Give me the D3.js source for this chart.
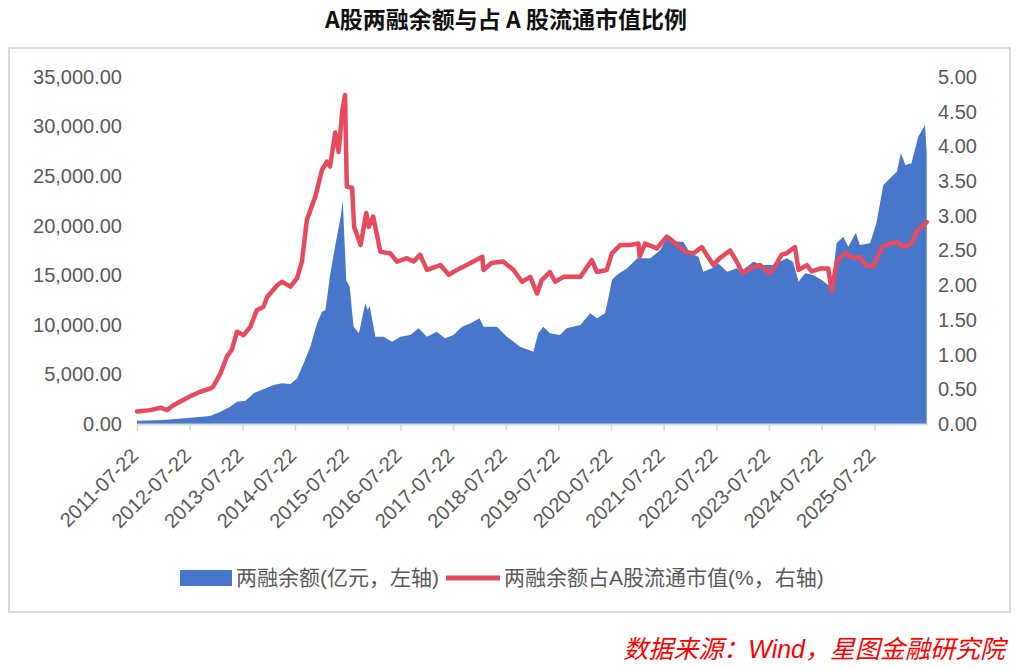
<!DOCTYPE html>
<html>
<head>
<meta charset="utf-8">
<script src="https://cdn.jsdelivr.net/npm/d3@7"></script>
<style>
  body { margin: 0; background: #fff; }
  text { font-family: "Liberation Sans", "Noto Sans CJK SC", sans-serif; }
</style>
</head>
<body>
<div id="chart"></div>
<script>
// Data (margin balance in 亿元, ratio in %)
const balanceDates = ["2011-07-22","2012-01-25","2012-07-25","2012-12-10","2013-02-20","2013-04-28","2013-06-15","2013-08-12","2013-10-08","2013-12-15","2014-02-25","2014-04-22","2014-06-20","2014-08-05","2014-09-20","2014-11-05","2014-12-22","2015-01-25","2015-02-18","2015-03-22","2015-04-27","2015-06-05","2015-06-18","2015-07-12","2015-08-05","2015-09-01","2015-10-08","2015-11-22","2015-12-08","2015-12-22","2016-01-30","2016-03-28","2016-05-25","2016-07-22","2016-09-28","2016-11-25","2017-01-22","2017-03-30","2017-05-28","2017-07-25","2017-09-22","2017-11-20","2018-01-22","2018-02-18","2018-05-22","2018-07-30","2018-10-30","2019-01-30","2019-03-05","2019-04-08","2019-05-25","2019-08-02","2019-09-18","2019-12-22","2020-02-28","2020-04-15","2020-06-10","2020-07-05","2020-07-28","2020-08-30","2020-11-10","2021-01-20","2021-04-20","2021-06-28","2021-08-25","2021-10-22","2021-12-05","2022-01-22","2022-03-20","2022-04-22","2022-06-20","2022-08-05","2022-10-05","2022-12-12","2023-01-05","2023-04-05","2023-06-12","2023-08-22","2023-11-22","2024-01-05","2024-02-12","2024-03-28","2024-05-25","2024-07-22","2024-09-05","2024-09-28","2024-11-02","2024-12-18","2025-01-22","2025-03-15","2025-04-12","2025-06-22","2025-08-05","2025-09-22","2025-11-18","2025-12-25","2026-01-22","2026-02-22","2026-04-05","2026-05-22","2026-07-08","2026-07-20"];
const balanceValues = [330,400,640,800,1240,1750,2250,2350,3100,3500,3930,4100,4030,4600,6120,7800,10150,11330,11500,15000,18000,21000,22600,14500,13850,9800,9150,12170,11500,11900,8800,8800,8300,8800,8980,9650,8800,9310,8640,8980,9810,10150,10660,9810,9810,8800,7800,7290,9150,9810,9150,8980,9650,9990,11160,10660,11160,12840,14520,15030,15700,16710,16710,17550,19060,18390,18390,17220,16880,15360,15700,16200,15360,15700,15360,16370,16040,16040,16710,16370,14350,15200,15030,14520,14020,13850,18230,18890,17880,19300,18050,18230,20240,24100,24940,25450,27300,26120,26290,28980,30160,27300];

const ratioDates = ["2011-07-22","2011-10-22","2012-01-01","2012-02-15","2012-03-30","2012-06-07","2012-07-25","2012-10-02","2012-12-10","2013-01-01","2013-02-20","2013-04-05","2013-05-10","2013-06-15","2013-07-30","2013-09-15","2013-10-30","2013-12-15","2014-01-10","2014-03-20","2014-04-22","2014-06-20","2014-08-05","2014-09-08","2014-10-12","2014-12-10","2015-01-25","2015-02-28","2015-03-22","2015-04-27","2015-05-20","2015-06-15","2015-07-04","2015-07-16","2015-08-22","2015-09-05","2015-10-20","2015-11-28","2015-12-15","2016-01-15","2016-03-05","2016-05-12","2016-06-28","2016-09-05","2016-10-22","2016-12-05","2017-01-22","2017-04-25","2017-06-22","2017-08-18","2017-11-20","2018-02-10","2018-02-18","2018-04-15","2018-07-05","2018-09-15","2018-11-12","2019-01-08","2019-02-25","2019-03-28","2019-05-25","2019-06-30","2019-08-28","2019-12-22","2020-03-10","2020-04-15","2020-06-22","2020-07-28","2020-09-25","2020-12-01","2021-01-28","2021-02-05","2021-03-15","2021-06-05","2021-08-12","2021-10-10","2021-12-18","2022-02-15","2022-04-12","2022-07-01","2022-08-15","2022-10-25","2022-12-05","2023-01-22","2023-03-10","2023-05-20","2023-07-28","2023-09-15","2023-10-18","2023-11-22","2024-01-18","2024-02-12","2024-04-10","2024-05-12","2024-07-10","2024-09-05","2024-09-30","2024-11-02","2024-12-30","2025-02-28","2025-04-12","2025-05-20","2025-07-15","2025-09-12","2025-11-08","2025-12-25","2026-02-08","2026-04-05","2026-05-10","2026-07-20"];
const ratioValues = [0.18,0.20,0.235,0.20,0.27,0.345,0.40,0.465,0.51,0.54,0.73,0.97,1.07,1.33,1.28,1.40,1.64,1.69,1.83,2.00,2.05,1.98,2.10,2.34,2.94,3.28,3.66,3.78,3.71,4.20,3.92,4.52,4.74,3.42,3.40,2.84,2.58,3.04,2.84,2.99,2.48,2.46,2.34,2.39,2.34,2.44,2.22,2.29,2.15,2.22,2.32,2.41,2.22,2.32,2.34,2.22,2.05,2.12,1.88,2.07,2.19,2.05,2.12,2.12,2.36,2.19,2.22,2.46,2.58,2.58,2.60,2.41,2.60,2.53,2.70,2.60,2.48,2.46,2.55,2.29,2.39,2.50,2.36,2.17,2.24,2.29,2.17,2.32,2.44,2.46,2.55,2.22,2.29,2.20,2.24,2.24,1.91,2.34,2.46,2.39,2.41,2.29,2.27,2.55,2.60,2.62,2.55,2.60,2.77,2.91];

const xTickLabels = ["2011-07-22","2012-07-22","2013-07-22","2014-07-22","2015-07-22","2016-07-22","2017-07-22","2018-07-22","2019-07-22","2020-07-22","2021-07-22","2022-07-22","2023-07-22","2024-07-22","2025-07-22"];
const leftTicks = [0,5000,10000,15000,20000,25000,30000,35000];
const rightTicks = [0,0.5,1,1.5,2,2.5,3,3.5,4,4.5,5];

const blue = "#4876CB";
const red = "#E64A5C";

const W = 1026, H = 670;
const plot = {left: 137, right: 927, top: 77, bottom: 424};

const parse = d3.timeParse("%Y-%m-%d");
const balance = balanceDates.map((d, i) => ({date: parse(d), value: balanceValues[i]}));
const ratio = ratioDates.map((d, i) => ({date: parse(d), value: ratioValues[i]}));

const svg = d3.select("#chart").append("svg")
  .attr("width", W)
  .attr("height", H);

// title
svg.append("text")
  .attr("x", 506).attr("y", 28)
  .attr("text-anchor", "middle")
  .style("font-family", "'Noto Sans CJK SC', sans-serif")
  .style("font-weight", "bold")
  .style("font-size", "23px")
  .attr("fill", "#111")
  .text("A股两融余额与占 A 股流通市值比例");

// frame
svg.append("rect")
  .attr("x", 9).attr("y", 48)
  .attr("width", 1001).attr("height", 564)
  .attr("fill", "#fff")
  .attr("stroke", "#d9d9d9")
  .attr("stroke-width", 2);

const x = d3.scaleTime()
  .domain([parse("2011-07-22"), parse("2026-07-22")])
  .range([plot.left, plot.right]);

const yL = d3.scaleLinear().domain([0, 35000]).range([plot.bottom, plot.top]);
const yR = d3.scaleLinear().domain([0, 5]).range([plot.bottom, plot.top]);

// area
const area = d3.area()
  .x(d => x(d.date))
  .y0(yL(0))
  .y1(d => yL(d.value));

svg.append("path")
  .datum(balance)
  .attr("d", area)
  .attr("fill", blue);

// line
const line = d3.line()
  .x(d => x(d.date))
  .y(d => yR(d.value));

svg.append("path")
  .datum(ratio)
  .attr("d", line)
  .attr("fill", "none")
  .attr("stroke", red)
  .attr("stroke-width", 4.5)
  .attr("stroke-linejoin", "round")
  .attr("stroke-linecap", "round");

// x axis
const xAxis = d3.axisBottom(x)
  .tickValues(xTickLabels.map(parse))
  .tickFormat(d3.timeFormat("%Y-%m-%d"))
  .tickSize(7)
  .tickSizeOuter(0);

const gx = svg.append("g")
  .attr("transform", `translate(0,${plot.bottom})`)
  .call(xAxis);
gx.select(".domain").attr("stroke", "#d9d9d9").attr("stroke-width", 2);
gx.selectAll(".tick line").attr("stroke", "#d9d9d9").attr("stroke-width", 1.5);
gx.selectAll(".tick text")
  .attr("fill", "#595959")
  .style("font-size", "20px")
  .attr("text-anchor", "end")
  .attr("transform", "translate(2,33) rotate(-45)")
  .attr("dy", 0)
  .attr("y", 0)
  .attr("x", 0);

// left axis
const gl = svg.append("g")
  .attr("transform", `translate(${plot.left - 12},0)`)
  .call(d3.axisLeft(yL).tickValues(leftTicks).tickFormat(d3.format(",.2f")).tickSize(0));
gl.select(".domain").remove();
gl.selectAll("text").attr("fill", "#595959").style("font-size", "20px");

// right axis
const gr = svg.append("g")
  .attr("transform", `translate(${plot.right + 8},0)`)
  .call(d3.axisRight(yR).tickValues(rightTicks).tickFormat(d3.format(".2f")).tickSize(0));
gr.select(".domain").remove();
gr.selectAll("text").attr("fill", "#595959").style("font-size", "20px");

// legend
const legend = svg.append("g").attr("transform", "translate(0,578)");
legend.append("rect")
  .attr("x", 180).attr("y", -8)
  .attr("width", 52).attr("height", 16)
  .attr("fill", blue);
legend.append("text")
  .attr("x", 236).attr("y", 0).attr("dy", "0.35em")
  .attr("fill", "#595959")
  .style("font-size", "21px")
  .text("两融余额(亿元，左轴)");
legend.append("line")
  .attr("x1", 446).attr("x2", 500)
  .attr("y1", 0).attr("y2", 0)
  .attr("stroke", red)
  .attr("stroke-width", 5);
legend.append("text")
  .attr("x", 504).attr("y", 0).attr("dy", "0.35em")
  .attr("fill", "#595959")
  .style("font-size", "21px")
  .text("两融余额占A股流通市值(%，右轴)");

// source note
svg.append("text")
  .attr("x", 1005).attr("y", 658)
  .attr("text-anchor", "end")
  .attr("fill", "#ff0000")
  .style("font-style", "italic")
  .style("font-size", "25px")
  .text("数据来源：Wind，星图金融研究院");
</script>
</body>
</html>
